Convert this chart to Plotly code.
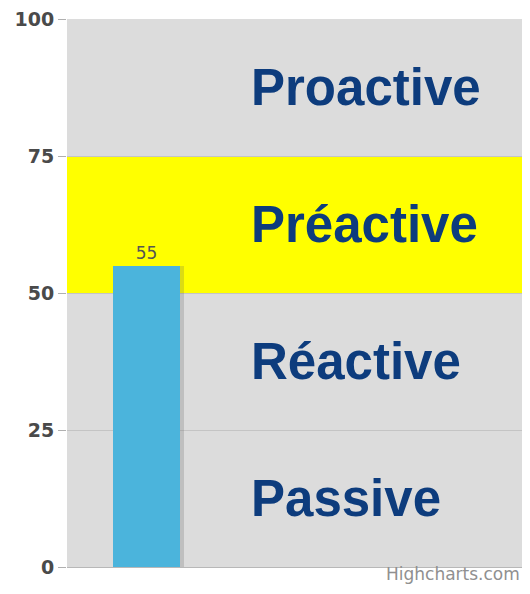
import plotly.graph_objects as go

categories = [0]
values = [55]
band_labels = ["Passive", "Réactive", "Préactive", "Proactive"]
band_centers = [12.5, 37.5, 62.5, 87.5]
band_from = [50]
band_to = [75]
tick_vals = [0, 25, 50, 75, 100]

fig = go.Figure()

# soft shadow behind the bar
fig.add_trace(go.Bar(
    x=categories, y=values, width=1, offset=-0.44,
    marker=dict(color="rgba(90,90,90,0.22)", line=dict(width=0)),
    hoverinfo="skip", showlegend=False,
))
fig.add_trace(go.Bar(
    x=categories, y=values, width=1,
    marker=dict(color="#4bb4dc", line=dict(width=0)),
    text=[str(v) for v in values], textposition="outside",
    textfont=dict(family="DejaVu Sans", size=17, color="#555555"),
    cliponaxis=False, showlegend=False,
))

for f, t in zip(band_from, band_to):
    fig.add_shape(type="rect", xref="paper", yref="y", x0=0, x1=1, y0=f, y1=t,
                  fillcolor="#ffff00", line=dict(width=0), layer="below")

for lab, c in zip(band_labels, band_centers):
    fig.add_annotation(x=0.400, xref="paper", y=c, yref="y", text=lab,
                       showarrow=False, xanchor="left", yanchor="middle",
                       font=dict(family="Liberation Sans", size=51, color="#0d3c7d",
                                 weight="bold"))

fig.add_annotation(x=1, xref="paper", y=0, yref="paper", yshift=-19, xshift=0,
                   text="Highcharts.com", showarrow=False, xanchor="right", yanchor="bottom",
                   font=dict(family="DejaVu Sans", size=17, color="#909090"))

fig.update_layout(
    width=514, height=578,
    margin=dict(l=59, r=0, t=8, b=19),
    paper_bgcolor="white", plot_bgcolor="#dcdcdc",
    bargap=0, barmode="overlay",
    xaxis=dict(range=[-1.187, 5.60], showticklabels=False, showgrid=False,
               zeroline=False, showline=True, linecolor="#b8b8b8", linewidth=1),
    yaxis=dict(range=[0, 100], tickvals=tick_vals, showgrid=True, gridcolor="#c4c4c4",
               zeroline=False, showline=False, ticks="outside", ticklen=8,
               tickcolor="#b0b0b0", ticklabeloverflow="allow",
               tickfont=dict(family="DejaVu Sans", size=19, color="#4a4a4a", weight="bold")),
    font=dict(family="DejaVu Sans"),
)

fig.write_html("out.html")
